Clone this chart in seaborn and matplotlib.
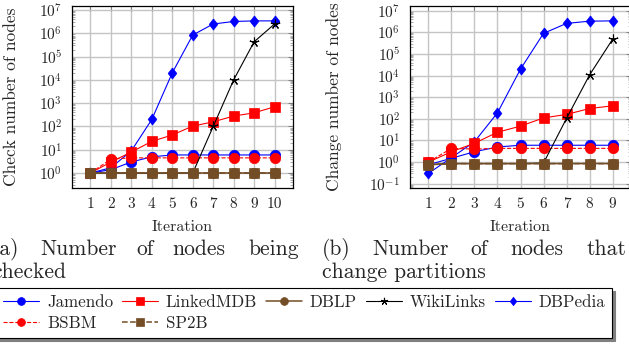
import matplotlib
matplotlib.use("Agg")
import matplotlib.pyplot as plt
import seaborn as sns
import numpy as np
from matplotlib.ticker import LogLocator, LogFormatterMathtext, FixedLocator, NullFormatter

# ---------------- data ----------------
iterations_check = [1, 2, 3, 4, 5, 6, 7, 8, 9, 10]
check_jamendo = [1, 1.4, 3, 5, 6, 6, 6, 6, 6, 6]
check_linkedmdb = [1, 3, 8, 23, 43, 104, 158, 280, 385, 700]
check_dblp = [1, 1, 1, 1, 1, 1, 1, 1, 1, 1]
check_wikilinks = [1, 1, 1, 1, 1, 1, 100, 1.0e4, 4.3e5, 2.5e6]
check_dbpedia = [1, 1.7, 9, 200, 2.0e4, 8.4e5, 2.5e6, 3.2e6, 3.4e6, 3.4e6]
check_bsbm = [1, 4, 4.5, 4.5, 4.5, 4.5, 4.5, 4.5, 4.5, 4.5]
check_sp2b = [1, 1, 1, 1, 1, 1, 1, 1, 1, 1]

iterations_change = [1, 2, 3, 4, 5, 6, 7, 8, 9]
change_jamendo = [0.75, 1.5, 3, 5, 6, 6, 6, 6, 6]
change_linkedmdb = [1, 3, 7.4, 24, 46, 110, 160, 300, 400]
change_dblp = [0.75, 0.85, 0.85, 0.85, 0.85, 0.85, 0.85, 0.85, 0.85]
change_wikilinks = [0.75, 0.85, 0.85, 0.85, 0.85, 0.9, 105, 1.07e4, 4.8e5]
change_dbpedia = [0.3, 1.6, 8.7, 190, 2.0e4, 9.0e5, 2.6e6, 3.3e6, 3.4e6]
change_bsbm = [1, 4.3, 4, 4.3, 4.3, 4.3, 4.3, 4.3, 4.3]
change_sp2b = [0.75, 0.85, 0.85, 0.85, 0.85, 0.85, 0.85, 0.85, 0.85]

series_names = ["Jamendo", "LinkedMDB", "DBLP", "WikiLinks", "DBPedia", "BSBM", "SP2B"]
x_ticks_check = [1, 2, 3, 4, 5, 6, 7, 8, 9, 10]
x_ticks_change = [1, 2, 3, 4, 5, 6, 7, 8, 9]
x_label = "Iteration"
y_label_check = "Check number of nodes"
y_label_change = "Change number of nodes"

check_data = {"Jamendo": check_jamendo, "LinkedMDB": check_linkedmdb, "DBLP": check_dblp,
              "WikiLinks": check_wikilinks, "DBPedia": check_dbpedia, "BSBM": check_bsbm,
              "SP2B": check_sp2b}
change_data = {"Jamendo": change_jamendo, "LinkedMDB": change_linkedmdb, "DBLP": change_dblp,
               "WikiLinks": change_wikilinks, "DBPedia": change_dbpedia, "BSBM": change_bsbm,
               "SP2B": change_sp2b}

# ---------------- style ----------------
sns.set_style("white")
plt.rcParams.update({
    "font.family": ["cmr10", "DejaVu Serif"],
    "mathtext.fontset": "cm",
    "axes.unicode_minus": False,
    "axes.formatter.use_mathtext": True,
})

BLUE = "#0000ff"
RED = "#ff0000"
BROWN = "#734d26"
BLACK = "#000000"
diamond = [(0, 1), (0.78, 0), (0, -1), (-0.78, 0), (0, 1)]

styles = {
    "Jamendo":   dict(color=BLUE, marker="o", markersize=7.5, linestyle="-", linewidth=0.8),
    "LinkedMDB": dict(color=RED, marker="s", markersize=7, linestyle="-", linewidth=0.8),
    "DBLP":      dict(color=BROWN, marker="o", markersize=7.5, linestyle="-", linewidth=1.1),
    "WikiLinks": dict(color=BLACK, marker=(5, 2, 0), markersize=7, linestyle="-", linewidth=0.8),
    "DBPedia":   dict(color=BLUE, marker=diamond, markersize=8, linestyle="-", linewidth=0.8),
    "BSBM":      dict(color=RED, marker="o", markersize=7.5, linestyle="--", linewidth=0.8),
    "SP2B":      dict(color=BROWN, marker="s", markersize=7.5, linestyle="--", linewidth=1.1),
}
draw_order = ["DBPedia", "Jamendo", "LinkedMDB", "BSBM", "WikiLinks", "DBLP", "SP2B"]

W, H = 629, 347
fig = plt.figure(figsize=(W / 100, H / 100), dpi=100)
ax1 = fig.add_axes([72 / W, 1 - 188 / H, 221 / W, 182 / H])
ax2 = fig.add_axes([410 / W, 1 - 188 / H, 221 / W, 182 / H])


def draw(ax, iters, data):
    for z, name in enumerate(draw_order):
        st = styles[name]
        mk = st["marker"]
        sns.lineplot(x=iters, y=data[name], ax=ax, color=st["color"], marker=mk,
                     markersize=st["markersize"], markerfacecolor=st["color"],
                     markeredgecolor=st["color"], markeredgewidth=0.8 if mk == (5, 2, 0) else 0.5,
                     linestyle=st["linestyle"], linewidth=st["linewidth"],
                     label=name, legend=False, errorbar=None, zorder=3 + z)


draw(ax1, iterations_check, check_data)
draw(ax2, iterations_change, change_data)


def style_axis(ax, xticks, xlim, ylim, ylabel, label_x):
    ax.set_yscale("log")
    ax.set_xlim(*xlim)
    ax.set_ylim(*ylim)
    ax.xaxis.set_major_locator(FixedLocator(xticks))
    ax.set_xticklabels([str(t) for t in xticks])
    ax.yaxis.set_major_locator(LogLocator(base=10, numticks=20))
    ax.yaxis.set_major_formatter(LogFormatterMathtext(base=10))
    ax.yaxis.set_minor_locator(LogLocator(base=10, subs=np.arange(2, 10), numticks=20))
    ax.yaxis.set_minor_formatter(NullFormatter())
    ax.grid(True, which="major", color="#c4c4c4", linewidth=1.0, zorder=0)
    ax.set_axisbelow(True)
    for s in ax.spines.values():
        s.set_color("black")
        s.set_linewidth(0.9)
        s.set_visible(True)
    ax.tick_params(axis="both", which="major", direction="in", length=3.5, width=0.6,
                   color="0.45", top=True, right=True, labelsize=11, pad=7)
    ax.tick_params(axis="y", which="minor", direction="in", length=2.5, width=0.5,
                   color="0.55", left=True, right=True)
    ax.set_xlabel(x_label, fontsize=11.5)
    ax.xaxis.set_label_coords(0.5, -(220 - 188) / 182)
    ax.set_ylabel(ylabel, fontsize=12.5)
    ax.yaxis.set_label_coords(label_x, 0.5)
    ax.set_facecolor("white")


style_axis(ax1, x_ticks_check, (0.1, 10.9), (10 ** -0.64, 10 ** 7.17), y_label_check, (19 - 72) / 221)
style_axis(ax2, x_ticks_change, (0.2, 9.8), (10 ** -1.2, 10 ** 7.22), y_label_change, (342 - 410) / 221)

# ---------------- sub captions (justified, word by word) ----------------
cap_fs = 15.5
def word(x, y, s, ha="left"):
    fig.text(x / W, 1 - y / H, s, fontsize=cap_fs, ha=ha, va="baseline")

word(-8, 255, "(a)")
word(40, 255, "Number")
word(136, 255, "of")
word(172, 255, "nodes")
word(299, 255, "being", ha="right")
word(66, 278, "checked", ha="right")
word(322, 255, "(b)")
word(372, 255, "Number")
word(470, 255, "of")
word(510, 255, "nodes")
word(626, 255, "that", ha="right")
word(322, 278, "change partitions")

# ---------------- legend ----------------
handles, labels = ax1.get_legend_handles_labels()
hmap = dict(zip(labels, handles))
legend_order = ["Jamendo", "BSBM", "LinkedMDB", "SP2B", "DBLP", "WikiLinks", "DBPedia"]
leg = fig.legend([hmap[n] for n in legend_order], legend_order, ncol=5, loc="upper right",
                 bbox_to_anchor=(612 / W, 1 - 288 / H), frameon=True, fancybox=False,
                 edgecolor="black", framealpha=1, fontsize=12.2, handlelength=2.12,
                 handletextpad=0.47, columnspacing=0.52, borderpad=0.4, labelspacing=0.35,
                 borderaxespad=0, numpoints=1, markerscale=0.75,
                 shadow={"color": "0.5", "alpha": 1})
leg.get_frame().set_linewidth(0.8)

fig.savefig("out.png", dpi=100)
